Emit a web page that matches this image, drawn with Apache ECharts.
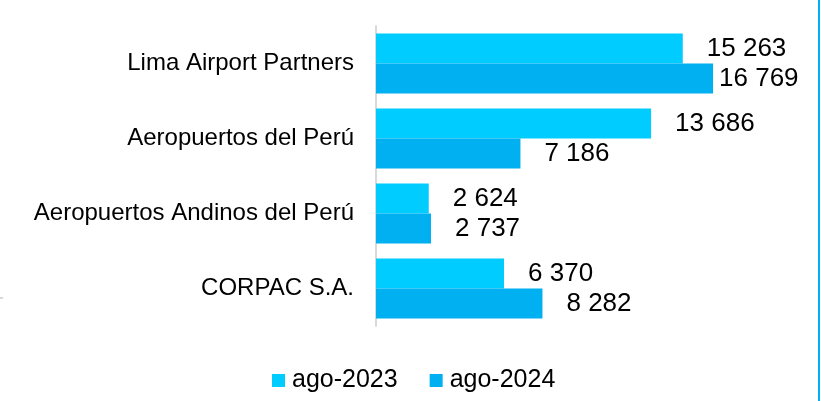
<!DOCTYPE html>
<html lang="es">
<head>
    <meta charset="utf-8">
    <title>Pasajeros por operador</title>
    <script src="https://cdn.jsdelivr.net/npm/echarts@6/dist/echarts.min.js"></script>
    <style type="text/css">
        html, body {
            width: 100%;
            height: 100%;
            margin: 0px;
            padding: 0px;
            background: #fff;
        }

        #main {
            width: 821px;
            height: 401px;
        }
    </style>
</head>
<body>
<div id="main"></div>
<script>
    // datos del grafico
    var operadores = ['Lima Airport Partners', 'Aeropuertos del Perú', 'Aeropuertos Andinos del Perú', 'CORPAC S.A.'];
    var nombresSeries = ['ago-2023', 'ago-2024'];
    var valores2023 = [15263, 13686, 2624, 6370];
    var valores2024 = [16769, 7186, 2737, 8282];

    var colores = ['#00CCFF', '#00B0F0'];

    // separador de miles con espacio
    function fmt(v) {
        return String(v).replace(/\B(?=(\d{3})+(?!\d))/g, ' ');
    }

    function serie(nombre, valores, color) {
        return {
            name: nombre,
            type: 'bar',
            barGap: '0%',
            barCategoryGap: '20%',
            itemStyle: { color: color },
            label: {
                show: true,
                position: 'right',
                distance: 24,
                fontFamily: 'Liberation Sans, Arial, sans-serif',
                fontSize: 26,
                color: '#000',
                formatter: function (p) { return fmt(p.value); }
            },
            data: valores.map(function (v) {
                // la etiqueta mas larga va pegada a la barra
                if (v === Math.max.apply(null, valores2024)) {
                    return { value: v, label: { distance: 6 } };
                }
                return v;
            })
        };
    }

    var myChart = echarts.init(document.getElementById('main'));

    var option = {
        backgroundColor: '#fff',
        animation: false,
        grid: {
            left: 376,
            right: 43,
            top: 26,
            bottom: 75
        },
        legend: {
            data: nombresSeries,
            left: 267,
            top: 363,
            icon: 'rect',
            itemWidth: 13,
            itemHeight: 13,
            itemGap: 32,
            textStyle: {
                fontFamily: 'Liberation Sans, Arial, sans-serif',
                fontSize: 25,
                color: '#000',
                padding: [0, 0, 0, 2]
            }
        },
        xAxis: {
            type: 'value',
            min: 0,
            max: 20000,
            show: false
        },
        yAxis: {
            type: 'category',
            inverse: true,
            data: operadores,
            axisLine: { show: true, lineStyle: { color: '#D9D9D9', width: 2 } },
            axisTick: { show: false },
            axisLabel: {
                margin: 22,
                fontFamily: 'Liberation Sans, Arial, sans-serif',
                fontSize: 24,
                color: '#000'
            }
        },
        series: [
            serie(nombresSeries[0], valores2023, colores[0]),
            serie(nombresSeries[1], valores2024, colores[1])
        ],
        graphic: [{
            type: 'rect',
            shape: { x: 818, y: 0, width: 2, height: 401 },
            style: { fill: '#00B0F0' }
        }, {
            type: 'rect',
            shape: { x: 0, y: 297, width: 3, height: 2 },
            style: { fill: '#D9D9D9' }
        }]
    };

    myChart.setOption(option);
</script>
</body>
</html>
